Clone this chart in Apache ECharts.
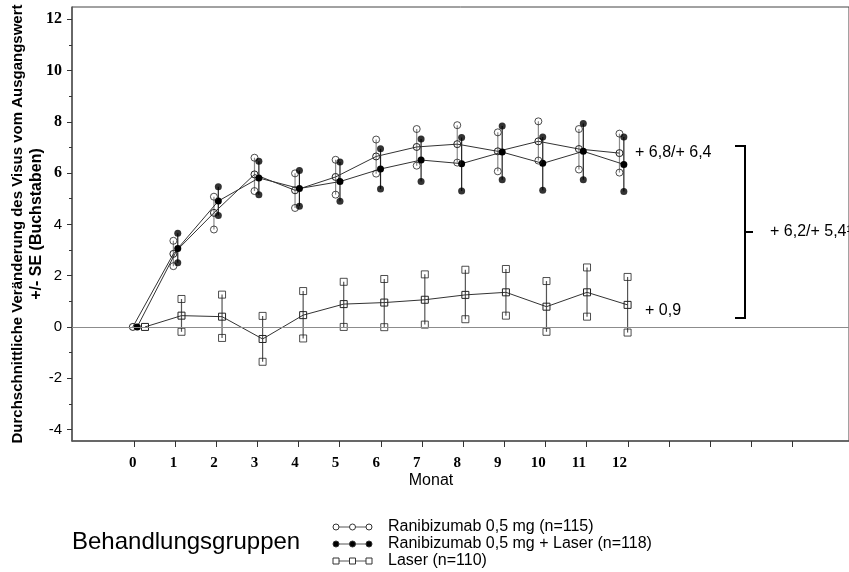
<!DOCTYPE html>
<html>
<head>
<meta charset="utf-8">
<script src="https://cdn.jsdelivr.net/npm/echarts@6/dist/echarts.min.js"></script>
<style>
  html, body { margin: 0; padding: 0; background: #fff; }
  #chart { width: 849px; height: 572px; }
</style>
</head>
<body>
<div id="chart"></div>
<script>
// months 0..12, values (Buchstaben)
const months = [0, 1, 2, 3, 4, 5, 6, 7, 8, 9, 10, 11, 12];
const monthLabels = ['0', '1', '2', '3', '4', '5', '6', '7', '8', '9', '10', '11', '12'];

// Ranibizumab 0,5 mg (open circles)
const raniMean  = [0, 2.85, 4.45, 5.95, 5.33, 5.85, 6.65, 7.02, 7.13, 6.85, 7.24, 6.94, 6.78];
const raniUpper = [0, 3.36, 5.08, 6.60, 5.99, 6.52, 7.31, 7.72, 7.87, 7.59, 8.02, 7.72, 7.54];
const raniLower = [0, 2.37, 3.80, 5.30, 4.64, 5.16, 5.98, 6.29, 6.41, 6.07, 6.49, 6.14, 6.02];

// Ranibizumab 0,5 mg + Laser (filled circles)
const raniLaserMean  = [0, 3.06, 4.91, 5.81, 5.40, 5.67, 6.16, 6.51, 6.37, 6.82, 6.38, 6.85, 6.34];
const raniLaserUpper = [0, 3.65, 5.47, 6.46, 6.10, 6.43, 6.95, 7.33, 7.39, 7.84, 7.41, 7.94, 7.41];
const raniLaserLower = [0, 2.50, 4.35, 5.16, 4.71, 4.90, 5.38, 5.67, 5.30, 5.74, 5.33, 5.74, 5.28];

// Laser (open squares)
const laserMean  = [0, 0.44, 0.40, -0.47, 0.46, 0.89, 0.95, 1.06, 1.25, 1.35, 0.79, 1.35, 0.86];
const laserUpper = [0, 1.09, 1.26, 0.43, 1.40, 1.76, 1.87, 2.05, 2.23, 2.26, 1.79, 2.32, 1.95];
const laserLower = [0, -0.19, -0.43, -1.36, -0.45, 0.00, -0.01, 0.09, 0.30, 0.44, -0.19, 0.40, -0.22];

// small horizontal shift of the groups (in months) so the symbols don't sit on each other
const shiftRani = 0;
const shiftRaniLaser = 0.108;
const shiftLaser = [0.3, 0.2, 0.2, 0.2, 0.2, 0.2, 0.2, 0.2, 0.2, 0.2, 0.2, 0.2, 0.2];

const yTicks = [-4, -2, 0, 2, 4, 6, 8, 10, 12];
const yMinorTicks = [-3, -1, 1, 3, 5, 7, 9, 11];
const xTicks = [0, 1, 2, 3, 4, 5, 6, 7, 8, 9, 10, 11, 12, 13, 14, 15, 16];

const legendNames = ['Ranibizumab 0,5 mg (n=115)', 'Ranibizumab 0,5 mg + Laser (n=118)', 'Laser (n=110)'];

const SANS = "'Liberation Sans', Arial, sans-serif";
const SERIF = "'Liberation Serif', 'Times New Roman', serif";

const chart = echarts.init(document.getElementById('chart'));

function xs(shift) {
  return months.map((m, i) => m + (Array.isArray(shift) ? shift[i] : shift));
}

function meanLine(x, mean, symbol, itemStyle) {
  return {
    type: 'line',
    xAxisIndex: 1,
    yAxisIndex: 0,
    data: x.map((v, i) => [v, mean[i]]),
    symbol: symbol,
    symbolSize: 7,
    showAllSymbol: true,
    itemStyle: itemStyle,
    lineStyle: { color: '#333', width: 1 },
    z: 3,
    silent: true
  };
}

function ends(x, upper, lower, symbol, itemStyle) {
  const data = [];
  x.forEach((v, i) => {
    if (i === 0) return;
    data.push([v, upper[i]]);
    data.push([v, lower[i]]);
  });
  return {
    type: 'scatter',
    xAxisIndex: 1,
    yAxisIndex: 0,
    data: data,
    symbol: symbol,
    symbolSize: 7,
    itemStyle: itemStyle,
    z: 4,
    silent: true
  };
}

function errorBars(x, upper, lower, color) {
  return {
    type: 'custom',
    xAxisIndex: 1,
    yAxisIndex: 0,
    silent: true,
    z: 1,
    data: x.map((v, i) => [v, lower[i], upper[i]]).slice(1),
    encode: { x: 0, y: [1, 2] },
    renderItem: function (params, api) {
      const p1 = api.coord([api.value(0), api.value(1)]);
      const p2 = api.coord([api.value(0), api.value(2)]);
      return {
        type: 'line',
        shape: { x1: p1[0], y1: p1[1], x2: p2[0], y2: p2[1] },
        style: { stroke: color, lineWidth: 1.2 }
      };
    }
  };
}

const openStyle = { color: 'rgba(255,255,255,0)', borderColor: '#222', borderWidth: 1 };
const filledStyle = { color: '#000', borderColor: '#000', borderWidth: 0 };
const squareStyle = { color: 'rgba(255,255,255,0)', borderColor: '#222', borderWidth: 1 };

const xRani = xs(shiftRani);
const xRaniLaser = xs(shiftRaniLaser);
const xLaser = xs(shiftLaser);

// legend rows: sample line + 3 symbols, then text
function legendRow(y, text, shape, fill) {
  const els = [{
    type: 'line',
    shape: { x1: 334, y1: y, x2: 371, y2: y },
    style: { stroke: '#555', lineWidth: 1 }
  }];
  [336, 352.5, 369].forEach(cx => {
    if (shape === 'circle') {
      els.push({ type: 'circle', shape: { cx: cx, cy: y, r: 3 },
        style: { fill: fill, stroke: '#333', lineWidth: 1 } });
    } else {
      els.push({ type: 'rect', shape: { x: cx - 3, y: y - 3, width: 6, height: 6 },
        style: { fill: fill, stroke: '#333', lineWidth: 1 } });
    }
  });
  els.push({
    type: 'text', x: 388, y: y,
    style: { text: text, font: '16px ' + SANS, fill: '#000', verticalAlign: 'middle' }
  });
  return els;
}

const graphics = [
  // y axis title, two rotated lines
  { type: 'text', x: 18, y: 224, rotation: Math.PI / 2,
    style: { text: 'Durchschnittliche Veränderung des Visus vom Ausgangswert', font: 'bold 15px ' + SANS,
      fill: '#000', align: 'center', verticalAlign: 'middle' } },
  { type: 'text', x: 37, y: 224, rotation: Math.PI / 2,
    style: { text: '+/- SE (Buchstaben)', font: 'bold 16px ' + SANS,
      fill: '#000', align: 'center', verticalAlign: 'middle' } },
  // x axis name
  { type: 'text', x: 431, y: 481,
    style: { text: 'Monat', font: '16px ' + SANS, fill: '#000', align: 'center', verticalAlign: 'middle' } },
  // annotations right of the curves
  { type: 'text', x: 635, y: 153,
    style: { text: '+ 6,8/+ 6,4', font: '16px ' + SANS, fill: '#000', verticalAlign: 'middle' } },
  { type: 'text', x: 645, y: 311,
    style: { text: '+ 0,9', font: '16px ' + SANS, fill: '#000', verticalAlign: 'middle' } },
  { type: 'polyline',
    shape: { points: [[735, 146], [745, 146], [745, 318], [735, 318]] },
    style: { stroke: '#000', lineWidth: 2, fill: null } },
  { type: 'line', shape: { x1: 745, y1: 232, x2: 753, y2: 232 },
    style: { stroke: '#000', lineWidth: 2 } },
  { type: 'text', x: 770, y: 232,
    style: { text: '+ 6,2/+ 5,4¹', font: '16px ' + SANS, fill: '#000', verticalAlign: 'middle' } },
  // legend
  { type: 'text', x: 72, y: 542,
    style: { text: 'Behandlungsgruppen', font: '24px ' + SANS, fill: '#000', verticalAlign: 'middle' } }
]
  .concat(legendRow(527, legendNames[0], 'circle', '#fff'))
  .concat(legendRow(544, legendNames[1], 'circle', '#000'))
  .concat(legendRow(561, legendNames[2], 'rect', '#fff'));

const option = {
  animation: false,
  backgroundColor: '#fff',
  grid: {
    left: 72, right: -3, top: 7, bottom: 131,
    show: true, borderColor: '#444', borderWidth: 1, backgroundColor: 'transparent'
  },
  xAxis: [
    {
      // the visible month axis with its ticks
      type: 'value', min: -1.5, max: 17.37,
      axisLine: { show: true, onZero: false, lineStyle: { color: '#555', width: 1.5 } },
      axisTick: { show: true, customValues: xTicks, length: 6, lineStyle: { color: '#333', width: 1 } },
      axisLabel: { show: false },
      splitLine: { show: false }
    },
    {
      // data axis: the points and the month labels sit on it
      type: 'value', min: -1.5, max: 17.66, position: 'bottom',
      axisLine: { show: false, onZero: false },
      axisTick: { show: false },
      axisLabel: {
        show: true, customValues: months, margin: 15,
        formatter: v => monthLabels[months.indexOf(v)],
        fontFamily: SERIF, fontWeight: 'bold', fontSize: 15, color: '#000'
      },
      splitLine: { show: false }
    }
  ],
  yAxis: [
    {
      type: 'value', min: -4.45, max: 12.48,
      axisLine: { show: true, onZero: false, lineStyle: { color: '#555', width: 1.5 } },
      axisTick: { show: true, customValues: yTicks, length: 5, lineStyle: { color: '#333' } },
      axisLabel: {
        show: true, customValues: yTicks, margin: 10,
        formatter: v => (v >= 6 ? '{s|' + v + '}' : '{a|' + v + '}'),
        rich: {
          s: { fontFamily: SERIF, fontWeight: 'bold', fontSize: 16, color: '#000' },
          a: { fontFamily: SANS, fontSize: 15, color: '#000' }
        }
      },
      splitLine: { show: false }
    },
    {
      // minor ticks only
      type: 'value', min: -4.45, max: 12.48, position: 'left', offset: 0,
      axisLine: { show: false, onZero: false },
      axisTick: { show: true, customValues: yMinorTicks, length: 3, lineStyle: { color: '#333' } },
      axisLabel: { show: false },
      splitLine: { show: false }
    }
  ],
  graphic: graphics,
  series: [
    errorBars(xRani, raniUpper, raniLower, '#8a8a8a'),
    errorBars(xRaniLaser, raniLaserUpper, raniLaserLower, '#222'),
    errorBars(xLaser, laserUpper, laserLower, '#555'),
    Object.assign(meanLine(xLaser, laserMean, 'rect', squareStyle), {
      markLine: {
        silent: true, symbol: 'none', label: { show: false },
        lineStyle: { color: '#8c8c8c', width: 1, type: 'solid' },
        data: [{ yAxis: 0 }]
      }
    }),
    meanLine(xRani, raniMean, 'circle', openStyle),
    meanLine(xRaniLaser, raniLaserMean, 'circle', filledStyle),
    ends(xRani, raniUpper, raniLower, 'circle', openStyle),
    ends(xRaniLaser, raniLaserUpper, raniLaserLower, 'circle', filledStyle),
    ends(xLaser, laserUpper, laserLower, 'rect', squareStyle)
  ]
};

chart.setOption(option);
</script>
</body>
</html>
